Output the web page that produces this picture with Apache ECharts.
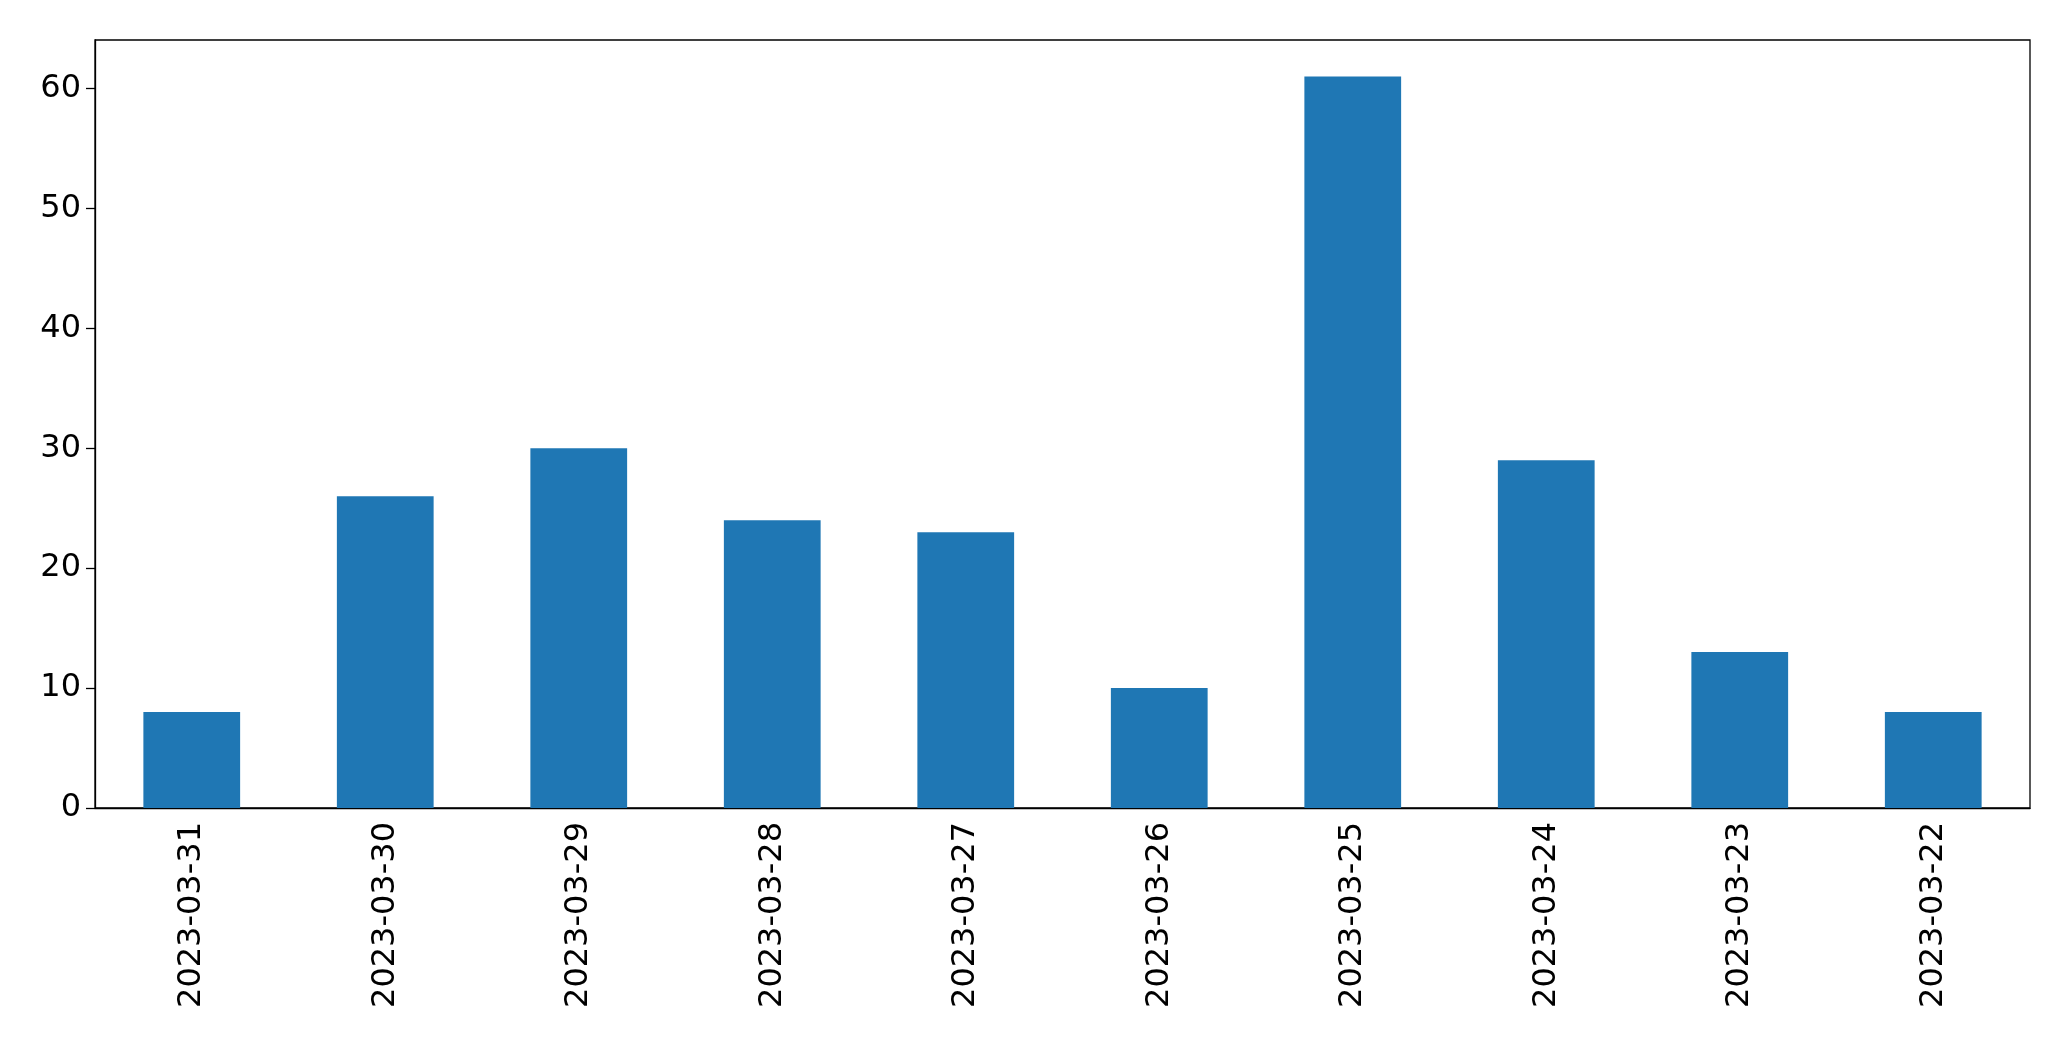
<!DOCTYPE html>
<html><head><meta charset="utf-8">
<script src="https://cdn.jsdelivr.net/npm/echarts@6/dist/echarts.min.js"></script>
<style>html,body{margin:0;padding:0;background:#fff}#c{width:2071px;height:1061px}</style>
</head><body><div id="c"></div>
<script>
const categories = ["2023-03-31","2023-03-30","2023-03-29","2023-03-28","2023-03-27","2023-03-26","2023-03-25","2023-03-24","2023-03-23","2023-03-22"];
const values = [8,26,30,24,23,10,61,29,13,8];
const chart = echarts.init(document.getElementById('c'));
const lab = {color:'#000', fontSize:32, fontFamily:'DejaVu Sans'};
chart.setOption({
  animation:false,
  grid:{left:95,right:41,top:40,bottom:253,show:true,borderColor:'#000',borderWidth:1.3},
  xAxis:{type:'category',data:categories,
    axisLine:{lineStyle:{color:'#000',width:1.3}},
    axisTick:{alignWithLabel:true,length:9,lineStyle:{color:'#000',width:1.3}},
    axisLabel:Object.assign({rotate:90,margin:14,interval:0},lab)},
  yAxis:{type:'value',min:0,max:64.05,interval:10,
    axisLine:{show:true,lineStyle:{color:'#000',width:1.3}},
    axisTick:{show:true,length:9,lineStyle:{color:'#000',width:1.3}},
    splitLine:{show:false},
    axisLabel:Object.assign({margin:14,showMaxLabel:false,formatter:v=>v%10===0?v:''},lab)},
  series:[{type:'bar',data:values,barCategoryGap:'50%',itemStyle:{color:'#1f77b4'}}]
});
</script></body></html>
